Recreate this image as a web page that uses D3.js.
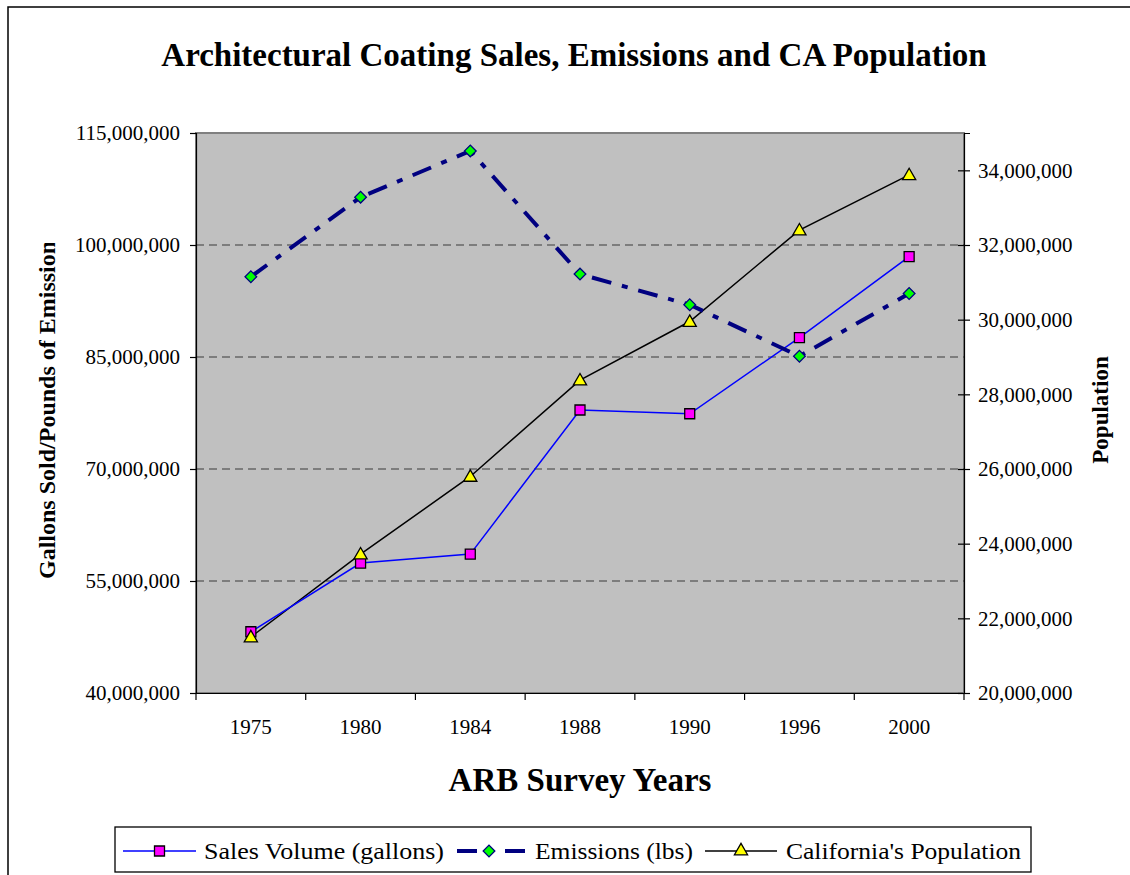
<!DOCTYPE html>
<html>
<head>
<meta charset="utf-8">
<script src="https://cdn.jsdelivr.net/npm/d3@7"></script>
<style>
  body { margin: 0; background: #fff; }
  svg text { font-family: "Liberation Serif", "Times New Roman", serif !important; }
</style>
</head>
<body>
<script>
// data
var years = ["1975", "1980", "1984", "1988", "1990", "1996", "2000"];
var sales = [48200000, 57400000, 58600000, 77900000, 77400000, 87600000, 98450000];
var emissions = [95750000, 106400000, 112600000, 96100000, 92000000, 85100000, 93500000];
var population = [21500000, 23720000, 25800000, 28380000, 29950000, 32400000, 33880000];
var leftTicks = [40000000, 55000000, 70000000, 85000000, 100000000, 115000000];
var rightTicks = [20000000, 22000000, 24000000, 26000000, 28000000, 30000000, 32000000, 34000000];

var W = 1130, H = 875;
var m = { left: 196, right: 964, top: 133, bottom: 693 };
var serif = "'Liberation Serif', 'Times New Roman', serif";

var svg = d3.select("body").append("svg")
  .attr("width", W)
  .attr("height", H);

// chart border (runs off right/bottom edge)
svg.append("rect")
  .attr("x", 8).attr("y", 7)
  .attr("width", W + 20).attr("height", H + 20)
  .attr("fill", "#fff")
  .attr("stroke", "#000")
  .attr("stroke-width", 1.5);

var x = d3.scaleBand().domain(years).range([m.left, m.right]).padding(0);
var yL = d3.scaleLinear().domain([40000000, 115000000]).range([m.bottom, m.top]);
var yR = d3.scaleLinear().domain([20000000, 35000000]).range([m.bottom, m.top]);
var cx = function(d, i) { return x(years[i]) + x.bandwidth() / 2; };
var fmt = d3.format(",");

// plot area
svg.append("rect")
  .attr("x", m.left).attr("y", m.top)
  .attr("width", m.right - m.left).attr("height", m.bottom - m.top)
  .attr("fill", "#c0c0c0")
  .attr("stroke", "#808080")
  .attr("stroke-width", 2);

// gridlines
svg.append("g").selectAll("line")
  .data(leftTicks.slice(1, -1))
  .enter().append("line")
  .attr("x1", m.left).attr("x2", m.right)
  .attr("y1", function(d) { return yL(d); })
  .attr("y2", function(d) { return yL(d); })
  .attr("stroke", "#3a3a3a")
  .attr("stroke-width", 1)
  .attr("stroke-dasharray", "8,5");

// left axis
var gL = svg.append("g")
  .attr("transform", "translate(" + m.left + ",0)")
  .call(d3.axisLeft(yL).tickValues(leftTicks).tickFormat(fmt).tickSize(6).tickPadding(10))
  .attr("font-family", serif);
gL.select(".domain").attr("stroke", "#000").attr("stroke-width", 1.2);
gL.selectAll(".tick line").attr("stroke", "#000").attr("stroke-width", 1.2);
gL.selectAll("text").style("font-size", "21px").style("font-family", serif).attr("fill", "#000");

// right axis (cross ticks)
var gR = svg.append("g")
  .attr("transform", "translate(" + m.right + ",0)")
  .call(d3.axisRight(yR).tickValues(rightTicks).tickFormat(fmt).tickSize(6).tickPadding(8))
  .attr("font-family", serif);
gR.select(".domain").attr("stroke", "#000").attr("stroke-width", 1.2);
gR.selectAll(".tick line").attr("x1", -6).attr("stroke", "#000").attr("stroke-width", 1.2);
gR.selectAll("text").style("font-size", "21px").style("font-family", serif).attr("fill", "#000");

// bottom axis: labels centred, ticks at band edges
var gB = svg.append("g")
  .attr("transform", "translate(0," + m.bottom + ")")
  .call(d3.axisBottom(x).tickSize(0).tickPadding(26))
  .attr("font-family", serif);
gB.select(".domain").attr("stroke", "#000").attr("stroke-width", 1.2);
gB.selectAll("text").style("font-size", "21px").style("font-family", serif).attr("fill", "#000");
gB.selectAll(".edge")
  .data(d3.range(years.length + 1))
  .enter().append("line")
  .attr("x1", function(i) { return m.left + i * x.step(); })
  .attr("x2", function(i) { return m.left + i * x.step(); })
  .attr("y1", 0).attr("y2", 7)
  .attr("stroke", "#000").attr("stroke-width", 1.2);

// lines
var lineL = d3.line().x(cx).y(function(d) { return yL(d); });
var lineR = d3.line().x(cx).y(function(d) { return yR(d); });

svg.append("path").datum(population)
  .attr("d", lineR).attr("fill", "none")
  .attr("stroke", "#000").attr("stroke-width", 1.5);

svg.append("path").datum(sales)
  .attr("d", lineL).attr("fill", "none")
  .attr("stroke", "#0000ff").attr("stroke-width", 1.5);

svg.append("path").datum(emissions)
  .attr("d", lineL).attr("fill", "none")
  .attr("stroke", "#000080").attr("stroke-width", 4)
  .attr("stroke-dasharray", "20,11,6,11");

// markers
var sq = d3.symbol().type(d3.symbolSquare).size(100);
var dia = d3.symbol().type(d3.symbolSquare).size(68);
var tri = d3.symbol().type(d3.symbolTriangle).size(75);

svg.append("g").selectAll("path").data(sales).enter().append("path")
  .attr("d", sq)
  .attr("transform", function(d, i) { return "translate(" + cx(d, i) + "," + yL(d) + ")"; })
  .attr("fill", "#ff00ff").attr("stroke", "#000").attr("stroke-width", 1.3);

svg.append("g").selectAll("path").data(emissions).enter().append("path")
  .attr("d", dia)
  .attr("transform", function(d, i) { return "translate(" + cx(d, i) + "," + yL(d) + ") rotate(45)"; })
  .attr("fill", "#00ff00").attr("stroke", "#000080").attr("stroke-width", 1.3);

svg.append("g").selectAll("path").data(population).enter().append("path")
  .attr("d", tri)
  .attr("transform", function(d, i) { return "translate(" + cx(d, i) + "," + (yR(d) + 1) + ")"; })
  .attr("fill", "#ffff00").attr("stroke", "#000").attr("stroke-width", 1.3);

// titles
svg.append("text")
  .attr("x", 574).attr("y", 66)
  .attr("text-anchor", "middle")
  .style("font-size", "33px").style("font-weight", "bold")
  .text("Architectural Coating Sales, Emissions and CA Population");

svg.append("text")
  .attr("x", 580).attr("y", 791)
  .attr("text-anchor", "middle")
  .style("font-size", "33px").style("font-weight", "bold")
  .text("ARB Survey Years");

svg.append("clipPath").attr("id", "clipL")
  .append("rect").attr("x", 0).attr("y", 243).attr("width", 100).attr("height", 400);

svg.append("g")
  .attr("clip-path", "url(#clipL)")
  .append("text")
  .attr("transform", "translate(55,579) rotate(-90)")
  .attr("text-anchor", "start")
  .style("font-size", "24px").style("font-weight", "bold")
  .text("Gallons Sold/Pounds of Emissions");

svg.append("text")
  .attr("transform", "translate(1108,410) rotate(-90)")
  .attr("text-anchor", "middle")
  .style("font-size", "23px").style("font-weight", "bold")
  .text("Population");

// legend
var legend = svg.append("g");
legend.append("rect")
  .attr("x", 115).attr("y", 827)
  .attr("width", 916).attr("height", 45)
  .attr("fill", "#fff").attr("stroke", "#000").attr("stroke-width", 1.3);

var items = [
  { name: "Sales Volume (gallons)", x1: 123, x2: 196, tx: 204, tw: 240, color: "#0000ff", w: 1.5, dash: null, sym: sq, rot: 0, fill: "#ff00ff", edge: "#000" },
  { name: "Emissions (lbs)", x1: 457, x2: 527, tx: 535, tw: 158, color: "#000080", w: 4, dash: "20,11,6,11", sym: dia, rot: 45, fill: "#00ff00", edge: "#000080" },
  { name: "California's Population", x1: 705, x2: 777, tx: 786, tw: 235, color: "#000", w: 1.5, dash: null, sym: tri, rot: 0, fill: "#ffff00", edge: "#000" }
];
var ly = 851;
items.forEach(function(it) {
  legend.append("line")
    .attr("x1", it.x1).attr("x2", it.x2).attr("y1", ly).attr("y2", ly)
    .attr("stroke", it.color).attr("stroke-width", it.w)
    .attr("stroke-dasharray", it.dash);
  legend.append("path")
    .attr("d", it.sym)
    .attr("transform", "translate(" + ((it.x1 + it.x2) / 2 - (it.dash ? 3 : 0)) + "," + ly + ") rotate(" + it.rot + ")")
    .attr("fill", it.fill).attr("stroke", it.edge).attr("stroke-width", 1.3);
  legend.append("text")
    .attr("x", it.tx).attr("y", ly + 8)
    .attr("textLength", it.tw).attr("lengthAdjust", "spacingAndGlyphs")
    .style("font-size", "24px").style("font-family", serif)
    .text(it.name);
});
</script>
</body>
</html>
